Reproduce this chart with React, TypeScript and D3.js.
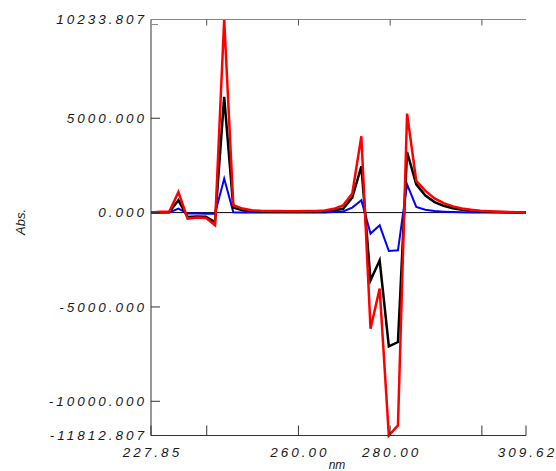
import React from "react";
import * as d3 from "d3";

const wavelengths = [
  227.85, 229.84, 231.84, 233.83, 235.83, 237.82, 239.82, 241.81, 243.81, 245.8,
  247.79, 249.79, 251.78, 253.78, 255.77, 257.77, 259.76, 261.76, 263.75, 265.74,
  267.74, 269.73, 271.73, 273.72, 275.72, 277.71, 279.71, 281.7, 283.69, 285.69,
  287.68, 289.68, 291.67, 293.67, 295.66, 297.66, 299.65, 301.64, 303.64, 305.63,
  307.63, 309.62,
];

const redSeries = [
  0, 40, 60, 1092, -318, -265, -280, -673, 10233, 387,
  212, 122, 100, 90, 80, 75, 75, 80, 90, 110,
  200, 380, 1007, 4046, -6150, -4030, -11812, -11278, 5249, 1680,
  1150, 750, 500, 330, 220, 150, 100, 70, 50, 30,
  15, 0,
];

const blackSeries = [
  0, 20, 30, 652, -233, -200, -220, -498, 6130, 265,
  130, 80, 60, 50, 45, 40, 40, 45, 55, 70,
  120, 200, 795, 2455, -3590, -2529, -7089, -6860, 3213, 1500,
  900, 560, 360, 230, 150, 100, 70, 50, 35, 20,
  10, 0,
];

const blueSeries = [
  0, 0, 10, 212, -53, -50, -55, -60, 1803, 20,
  10, 5, 0, 0, 0, 0, 0, 0, 5, 10,
  30, 60, 265, 652, -1113, -673, -2036, -2000, 1500, 300,
  150, 80, 50, 30, 20, 10, 5, 0, 0, 0,
  0, 0,
];

const yTicks = [10233.807, 5000, 0, -5000, -10000, -11812.807];
const yTickLabels = ["10233.807", "5000.000", "0.000", "-5000.000", "-10000.000", "-11812.807"];
const xTicks = [227.85, 240, 260, 280, 300, 309.62];
const xLabelValues = [227.85, 260, 280, 309.62];
const xTickLabels = ["227.85", "260.00", "280.00", "309.62"];

const W = 556;
const H = 471;
const left = 151;
const right = 526;
const top = 19.5;
const bottom = 435.5;

export default function App() {
  const x = d3.scaleLinear().domain([227.85, 309.62]).range([left, right]);
  const y = d3.scaleLinear().domain([-11812.807, 10233.807]).range([bottom, top]);

  const line = d3
    .line<number>()
    .x((_, i) => x(wavelengths[i]))
    .y((d) => y(d));

  const font = "'Liberation Sans', Arial, sans-serif";
  const series = [
    { data: blueSeries, color: "#0000ff", w: 2 },
    { data: blackSeries, color: "#000000", w: 2.5 },
    { data: redSeries, color: "#ff0000", w: 2.5 },
  ];

  return (
    <svg
      width={W}
      height={H}
      style={{ position: "absolute", left: 0, top: 0, background: "#fff" }}
    >
      <rect x={0} y={0} width={W} height={H} fill="#fff" />
      <line x1={left} x2={right} y1={y(0)} y2={y(0)} stroke="#000" strokeWidth={1} />
      {series.map((s, i) => (
        <path
          key={i}
          d={line(s.data) || ""}
          fill="none"
          stroke={s.color}
          strokeWidth={s.w}
          strokeLinejoin="miter"
        />
      ))}
      <line x1={left} x2={right} y1={top} y2={top} stroke="#888" strokeWidth={1} />
      <line x1={left} x2={right} y1={bottom} y2={bottom} stroke="#333" strokeWidth={1} />
      <line x1={left} x2={left} y1={top} y2={bottom} stroke="#333" strokeWidth={1} />
      {yTicks.map((t, i) => (
        <g key={"yt" + i}>
          {i > 0 && i < yTicks.length - 1 && (
            <line x1={left} x2={left + 9} y1={y(t)} y2={y(t)} stroke="#333" strokeWidth={1} />
          )}
          <text
            x={147}
            y={y(t)}
            dy="0.36em"
            textAnchor="end"
            fontFamily={font}
            fontStyle="italic"
            fontSize={13.5}
            letterSpacing={3}
            fill="#1a1a1a"
          >
            {yTickLabels[i]}
          </text>
        </g>
      ))}
      <line x1={left} x2={left + 7} y1={top + 5} y2={top + 5} stroke="#888" strokeWidth={1} />
      {xTicks.map((t, i) => (
        <g key={"xt" + i}>
          <line x1={x(t)} x2={x(t)} y1={bottom} y2={bottom - 10} stroke="#333" strokeWidth={1} />
          {t > 230 && t < 305 && (
            <line x1={x(t)} x2={x(t)} y1={top} y2={top + 6} stroke="#555" strokeWidth={1} />
          )}
        </g>
      ))}
      {xLabelValues.map((t, i) => (
        <text
          key={"xl" + i}
          x={x(t) + 1.5}
          y={456.5}
          textAnchor="middle"
          fontFamily={font}
          fontStyle="italic"
          fontSize={13.5}
          letterSpacing={3}
          fill="#1a1a1a"
        >
          {xTickLabels[i]}
        </text>
      ))}
      <text
        x={337}
        y={469}
        textAnchor="middle"
        fontFamily={font}
        fontStyle="italic"
        fontSize={12}
        fill="#1a1a1a"
      >
        nm
      </text>
      <text
        transform="translate(25,222) rotate(-90)"
        textAnchor="middle"
        fontFamily={font}
        fontStyle="italic"
        fontSize={13}
        fill="#1a1a1a"
      >
        Abs.
      </text>
    </svg>
  );
}
